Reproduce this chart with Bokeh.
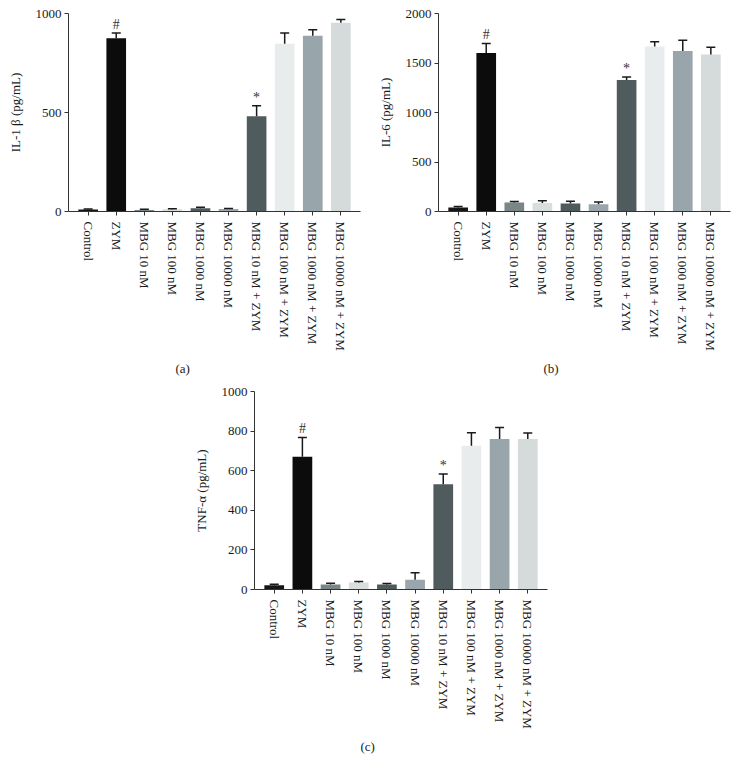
from bokeh.plotting import figure
from bokeh.models import FactorRange, Range1d, Whisker, TeeHead, ColumnDataSource, Title, FixedTicker
from bokeh.layouts import column, row
from bokeh.embed import file_html
from bokeh.resources import INLINE
from bokeh.core.properties import value

groups = ["Control", "ZYM", "MBG 10 nM", "MBG 100 nM", "MBG 1000 nM", "MBG 10000 nM",
          "MBG 10 nM + ZYM", "MBG 100 nM + ZYM", "MBG 1000 nM + ZYM", "MBG 10000 nM + ZYM"]

il1b_mean = [10, 875, 8, 11, 17, 12, 481, 847, 887, 953]
il1b_err = [3, 27, 3, 3, 4, 3, 53, 54, 31, 17]

il6_mean = [40, 1600, 91, 87, 81, 74, 1328, 1667, 1620, 1587]
il6_err = [10, 97, 10, 21, 23, 23, 30, 47, 111, 73]

tnf_mean = [22, 671, 25, 35, 25, 49, 531, 726, 760, 760]
tnf_err = [5, 97, 7, 5, 5, 35, 52, 66, 58, 30]

marks = ["", "#", "", "", "", "", "*", "", "", ""]

bar_colors = ["#151515", "#0c0c0c", "#7a8686", "#d8dede", "#4f5a5a",
              "#9aa6ab", "#4f5b5c", "#e9ecec", "#98a5ab", "#d5dada"]

FONT = "Liberation Serif"
TXT = "#1a1a1a"
AX = "#333333"


def make_panel(mean, err, ymax, ticks, ylabel, tag, width, height,
               bl, br, bt, fh, tag_offset):
    bb = height - bt - fh
    p = figure(x_range=FactorRange(*groups, range_padding=0.2, range_padding_units="absolute"),
               y_range=Range1d(0, ymax), width=width, height=height,
               min_border_left=bl, min_border_right=br, min_border_top=bt,
               min_border_bottom=bb, output_backend="svg", toolbar_location=None,
               tools="")
    upper = [m + e for m, e in zip(mean, err)]
    src = ColumnDataSource(dict(x=groups, mean=mean, upper=upper, color=bar_colors))
    p.vbar(x="x", top="mean", bottom=0, width=0.7, fill_color="color",
           line_color=None, source=src)
    w = Whisker(source=src, base="x", upper="upper", lower="mean", dimension="height",
                line_color="#1a1a1a", line_width=1.5,
                upper_head=TeeHead(size=9, line_color="#1a1a1a", line_width=1.5),
                lower_head=None, level="overlay")
    p.add_layout(w)
    mx = [g for g, m in zip(groups, marks) if m]
    my = [u for u, m in zip(upper, marks) if m]
    mt = [m for m in marks if m]
    p.text(x=mx, y=my, text=mt, text_align="center", text_baseline="bottom",
           y_offset=-1, text_font=value(FONT), text_font_size="14px", text_color="#333333")

    p.xgrid.visible = False
    p.ygrid.visible = False
    p.outline_line_color = None
    p.background_fill_color = "white"
    p.border_fill_color = "white"

    ya = p.yaxis[0]
    ya.ticker = FixedTicker(ticks=ticks)
    ya.axis_label = ylabel
    ya.axis_label_text_font = FONT
    ya.axis_label_text_font_style = "normal"
    ya.axis_label_text_font_size = "13px"
    ya.axis_label_text_color = TXT
    ya.axis_label_standoff = 10
    ya.major_label_text_font = FONT
    ya.major_label_text_font_size = "13px"
    ya.major_label_text_color = TXT
    ya.major_label_standoff = 3
    ya.major_tick_in = 0
    ya.major_tick_out = 4
    ya.minor_tick_out = 0
    ya.minor_tick_in = 0
    ya.axis_line_color = AX
    ya.major_tick_line_color = AX

    xa = p.xaxis[0]
    xa.major_label_orientation = "vertical"
    xa.major_label_text_font = FONT
    xa.major_label_text_font_size = "13px"
    xa.major_label_text_color = TXT
    xa.major_label_standoff = 6
    xa.major_tick_in = 0
    xa.major_tick_out = 4
    xa.axis_line_color = AX
    xa.major_tick_line_color = AX

    p.add_layout(Title(text=tag, align="left", offset=tag_offset, standoff=10,
                       text_font=FONT, text_font_size="13px", text_font_style="normal",
                       text_color=TXT), "below")
    return p


pa = make_panel(il1b_mean, il1b_err, 1000, [0, 500, 1000], "IL-1 β (pg/mL)", "(a)",
                370, 383, 68, 10, 13, 198, 107)
pb = make_panel(il6_mean, il6_err, 2000, [0, 500, 1000, 1500, 2000], "IL-6 (pg/mL)", "(b)",
                369, 383, 68, 9, 13, 198, 105)
pc = make_panel(tnf_mean, tnf_err, 1000, [0, 200, 400, 600, 800, 1000], "TNF-α (pg/mL)", "(c)",
                739, 388, 254, 192, 8, 198, 106)

layout = column(row(pa, pb), pc)

open("out.html", "w").write(file_html(layout, INLINE))
